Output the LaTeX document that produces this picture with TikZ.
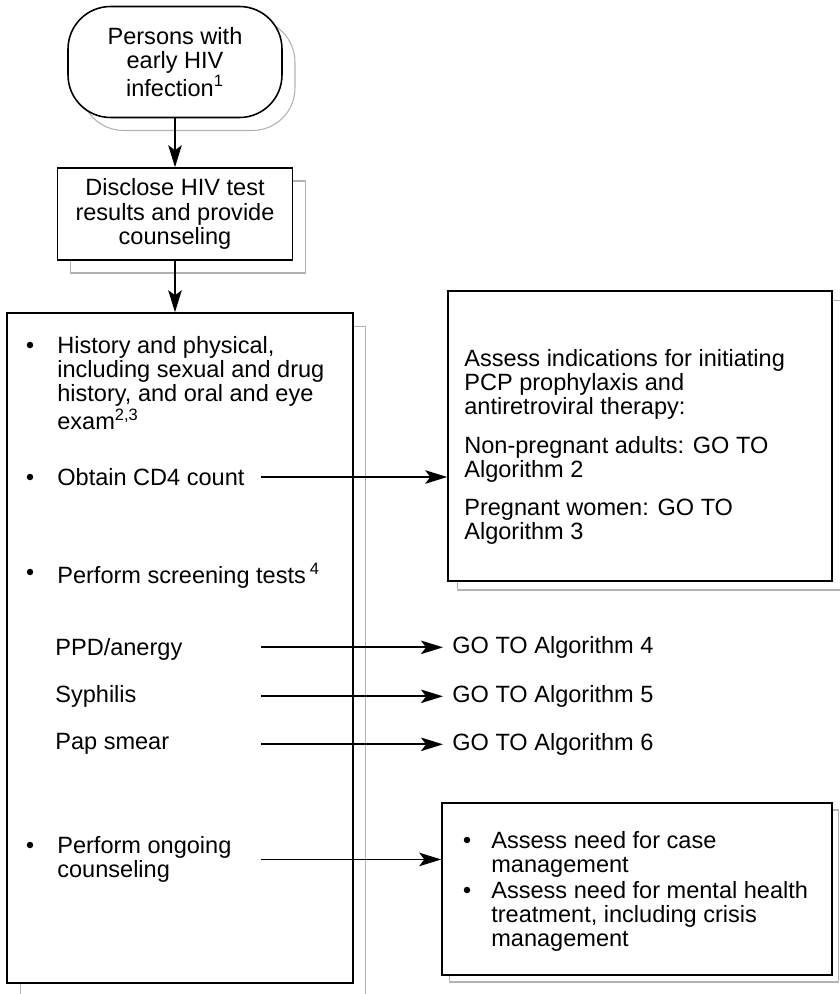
\documentclass[tikz,border=0pt]{standalone}
\usepackage{fontspec}
\setmainfont{Liberation Sans}
\usetikzlibrary{arrows.meta,shadows}

\tikzset{
  box/.style={draw, line width=0.9pt, fill=white, inner sep=0pt},
  ghostbox/.style={general shadow={shadow xshift=#1, shadow yshift=-#1, draw=black!30, line width=0.6pt, fill=white}},
  ghostbox/.default=0.26cm,
  txt/.style={inner sep=0pt, align=left, anchor=north west},
  dot/.style={circle, fill, inner sep=0pt, minimum size=0.13cm},
  arr/.style={line width=1pt, -{Stealth[length=0.44cm,width=0.27cm,inset=0.1cm]}},
}

\begin{document}
\begin{tikzpicture}[x=0.02cm, y=-0.02cm, font=\fontsize{13.4}{13.8}\selectfont]
\useasboundingbox (0,0) rectangle (839,994);
%
	\node[box, ghostbox, rounded corners=0.85cm, minimum width=4.28cm, minimum height=2.22cm, align=center] (start) at (175,62) {Persons with\\early HIV\\infection\textsuperscript{1}};
	\node[box, ghostbox, minimum width=4.7cm, minimum height=1.84cm, align=center] (disclose) at (175,214) {Disclose HIV test\\results and provide\\counseling};
	\node[box, ghostbox, minimum width=6.92cm, minimum height=13.4cm] (workup) at (180,648) {};
	\node[box, ghostbox=0.18cm, minimum width=7.68cm, minimum height=5.8cm] (assess) at (640,436) {};
	\node[box, ghostbox=0.14cm, minimum width=7.8cm, minimum height=3.44cm] (needs) at (637,889) {};
%
	\node[dot] (b1) at (30,345) {};
	\node[txt] (history) at (57,336) {History and physical,\\including sexual and drug\\history, and oral and eye\\exam\textsuperscript{2,3}};
	\node[dot] (b2) at (30,477) {};
	\node[txt] (cd4) at (57,468) {Obtain CD4 count};
	\node[dot] (b3) at (30,572) {};
	\node[txt] (screen) at (57,563) {Perform screening tests\,\textsuperscript{4}};
	\node[txt] (ppd) at (55,638) {PPD/anergy};
	\node[txt] (syph) at (55,685) {Syphilis};
	\node[txt] (pap) at (55,733) {Pap smear};
	\node[dot] (b4) at (30,845) {};
	\node[txt] (ongoing) at (57,836) {Perform ongoing\\counseling};
%
	\node[txt] (assesstxt) at (464,349) {Assess indications for initiating\\PCP prophylaxis and\\antiretroviral therapy:\\[0.28cm]Non-pregnant adults: GO TO\\Algorithm 2\\[0.28cm]Pregnant women: GO TO\\Algorithm 3};
	\node[txt] (go4) at (452,636) {GO TO Algorithm 4};
	\node[txt] (go5) at (452,685) {GO TO Algorithm 5};
	\node[txt] (go6) at (452,733) {GO TO Algorithm 6};
	\node[dot] (b5) at (467,840) {};
	\node[txt] (casemgmt) at (491,831) {Assess need for case\\management};
	\node[dot] (b6) at (467,890) {};
	\node[txt] (mental) at (491,881) {Assess need for mental health\\treatment, including crisis\\management};
%
	\coordinate (tail) at (261,0);
	\draw[arr] (start.south) -- (disclose.north);
	\draw[arr] (disclose.south) -- (disclose.south |- workup.north);
	\draw[arr] (tail |- cd4) -- (cd4 -| assess.west);
	\draw[arr, shorten >=0.18cm] (tail |- go4.west) -- (go4.west);
	\draw[arr, shorten >=0.18cm] (tail |- go5.west) -- (go5.west);
	\draw[arr, shorten >=0.18cm] (tail |- go6.west) -- (go6.west);
	\draw[arr] (tail |- ongoing) -- (ongoing -| needs.west);
\end{tikzpicture}
\end{document}
